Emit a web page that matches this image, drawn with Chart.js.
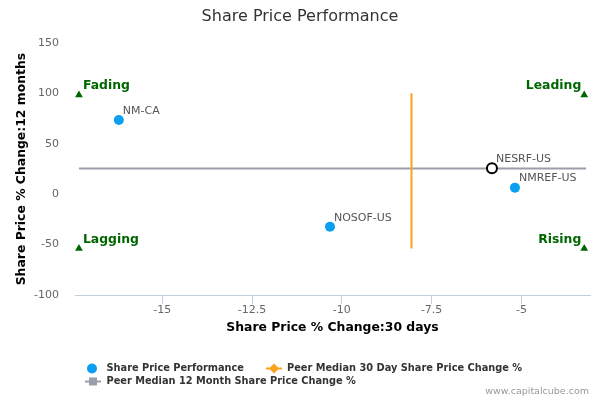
<!DOCTYPE html>
<html>
<head>
<meta charset="utf-8">
<script src="https://cdn.jsdelivr.net/npm/chart.js@4.4.1/dist/chart.umd.min.js"></script>
<style>
  html, body { margin: 0; padding: 0; background: #ffffff; }
  #wrap { width: 600px; height: 400px; }
</style>
</head>
<body>
<div id="wrap"><canvas id="c" width="600" height="400"></canvas></div>
<script>
// ---- Data ----
const companies = ['NM-CA', 'NOSOF-US', 'NMREF-US', 'NESRF-US'];
const change30d = [-16.21, -10.33, -5.18, -5.82];
const change12m = [73.8, -32.2, 6.6, 25.8];
const subjectCompany = 'NESRF-US';

const peerMedian30d = -8.06;
const peer30LineY = [-53.8, 100.3];
const peerMedian12m = 25.7;
const peer12LineX = [-17.32, -3.2];

const quadrantNames = ['Fading', 'Leading', 'Lagging', 'Rising'];
const quadrantX = [-17.32, -3.25, -17.32, -3.25];
const quadrantY = [98.6, 98.6, -53.8, -53.8];

const xTicks = [-15, -12.5, -10, -7.5, -5];
const yTicks = [-100, -50, 0, 50, 100, 150];

const legendNames = ['Share Price Performance', 'Peer Median 30 Day Share Price Change %', 'Peer Median 12 Month Share Price Change %'];

// ---- Styles ----
const BLUE = '#0a9ff0';
const ORANGE = '#f9a31f';
const GRAY = '#9a9eaa';
const GREEN = '#006600';
const FONT = 'DejaVu Sans';

Chart.defaults.font.family = FONT;

const pointData = companies.map((c, i) => ({ x: change30d[i], y: change12m[i] }));
const isSubject = companies.map(c => c === subjectCompany);

const labelPlugin = {
  id: 'labels',
  afterDatasetsDraw(chart) {
    const ctx = chart.ctx;
    ctx.save();
    const pm = chart.getDatasetMeta(0);
    ctx.font = '11px "' + FONT + '"';
    ctx.fillStyle = '#555555';
    ctx.textAlign = 'left';
    ctx.textBaseline = 'middle';
    pm.data.forEach((el, i) => {
      ctx.fillText(companies[i], el.x + 4, el.y - 9);
    });
    const qm = chart.getDatasetMeta(3);
    ctx.font = 'bold 12.4px "' + FONT + '"';
    ctx.fillStyle = GREEN;
    qm.data.forEach((el, i) => {
      const right = i % 2 === 1;
      ctx.textAlign = right ? 'right' : 'left';
      ctx.fillText(quadrantNames[i], right ? el.x - 3 : el.x + 4, el.y - 9);
    });
    ctx.restore();
  },
  afterDraw(chart) {
    const ctx = chart.ctx;
    ctx.save();
    ctx.font = 'bold 9.8px "' + FONT + '"';
    ctx.textAlign = 'left';
    ctx.textBaseline = 'middle';
    // item 1
    ctx.beginPath();
    ctx.arc(92, 368.5, 5, 0, Math.PI * 2);
    ctx.fillStyle = BLUE;
    ctx.fill();
    ctx.fillStyle = '#333333';
    ctx.fillText(legendNames[0], 106.5, 368.5);
    // item 2
    ctx.strokeStyle = ORANGE;
    ctx.lineWidth = 2;
    ctx.beginPath();
    ctx.moveTo(266, 368.5); ctx.lineTo(282, 368.5); ctx.stroke();
    ctx.fillStyle = ORANGE;
    ctx.beginPath();
    ctx.moveTo(274, 363.5); ctx.lineTo(279, 368.5); ctx.lineTo(274, 373.5); ctx.lineTo(269, 368.5); ctx.closePath();
    ctx.fill();
    ctx.fillStyle = '#333333';
    ctx.fillText(legendNames[1], 287, 368.5);
    // item 3
    ctx.strokeStyle = GRAY;
    ctx.beginPath();
    ctx.moveTo(85, 381.5); ctx.lineTo(101, 381.5); ctx.stroke();
    ctx.fillStyle = GRAY;
    ctx.fillRect(89, 377.5, 8, 8);
    ctx.fillStyle = '#333333';
    ctx.fillText(legendNames[2], 106.5, 381.5);
    // credits
    ctx.font = '9.5px "' + FONT + '"';
    ctx.fillStyle = '#999999';
    ctx.textAlign = 'right';
    ctx.fillText('www.capitalcube.com', 589, 392);
    ctx.restore();
  }
};

new Chart(document.getElementById('c'), {
  type: 'scatter',
  data: {
    datasets: [
      {
        label: legendNames[0],
        data: pointData,
        pointRadius: 5,
        pointBackgroundColor: companies.map((c, i) => isSubject[i] ? '#ffffff' : BLUE),
        pointBorderColor: companies.map((c, i) => isSubject[i] ? '#000000' : BLUE),
        pointBorderWidth: companies.map((c, i) => isSubject[i] ? 2 : 0),
        showLine: false
      },
      {
        label: legendNames[1],
        data: peer30LineY.map(y => ({ x: peerMedian30d, y: y })),
        showLine: true,
        borderColor: ORANGE,
        borderWidth: 2,
        pointRadius: 0
      },
      {
        label: legendNames[2],
        data: peer12LineX.map(x => ({ x: x, y: peerMedian12m })),
        showLine: true,
        borderColor: GRAY,
        borderWidth: 2,
        pointRadius: 0
      },
      {
        label: 'Quadrants',
        data: quadrantNames.map((q, i) => ({ x: quadrantX[i], y: quadrantY[i] })),
        pointStyle: 'triangle',
        pointRadius: 4.5,
        pointBackgroundColor: GREEN,
        pointBorderColor: GREEN,
        pointBorderWidth: 0,
        showLine: false
      }
    ]
  },
  options: {
    responsive: false,
    animation: false,
    events: [],
    layout: { padding: 0 },
    plugins: {
      legend: { display: false },
      tooltip: { enabled: false },
      title: {
        display: true,
        text: 'Share Price Performance',
        color: '#333333',
        font: { family: FONT, size: 16, weight: 'normal' },
        padding: { top: 7, bottom: 17 }
      }
    },
    scales: {
      x: {
        type: 'linear',
        position: 'bottom',
        min: -17.43,
        max: -3.09,
        afterBuildTicks: s => { s.ticks = xTicks.map(v => ({ value: v })); },
        afterFit: s => { s.height = 105; },
        grid: { display: true, drawOnChartArea: false, drawTicks: true, tickLength: 9, color: '#c0d0e0', lineWidth: 1 },
        border: { display: true, color: '#c0d0e0', width: 1 },
        ticks: { color: '#666666', font: { size: 11 }, padding: 0, maxRotation: 0, callback: v => String(v) },
        title: {
          display: true,
          text: 'Share Price % Change:30 days',
          color: '#000000',
          font: { family: FONT, size: 12.4, weight: 'bold' },
          padding: { top: 64.6, bottom: 64.6 }
        }
      },
      y: {
        type: 'linear',
        position: 'left',
        min: -100,
        max: 150,
        afterBuildTicks: s => { s.ticks = yTicks.map(v => ({ value: v })); },
        afterFit: s => { s.width = 75; },
        grid: { display: false, drawTicks: false },
        border: { display: false },
        ticks: { color: '#666666', font: { size: 11 }, padding: 16, callback: v => String(v) },
        title: {
          display: true,
          text: 'Share Price % Change:12 months',
          color: '#000000',
          font: { family: FONT, size: 12.4, weight: 'bold' },
          padding: { top: 14, bottom: 14 }
        }
      },
      yRight: {
        type: 'linear',
        position: 'right',
        display: true,
        min: -100,
        max: 150,
        afterBuildTicks: s => { s.ticks = []; },
        afterFit: s => { s.width = 10; },
        grid: { display: false, drawTicks: false },
        border: { display: false },
        ticks: { display: false },
        title: { display: false }
      }
    }
  },
  plugins: [labelPlugin]
});
</script>
</body>
</html>
